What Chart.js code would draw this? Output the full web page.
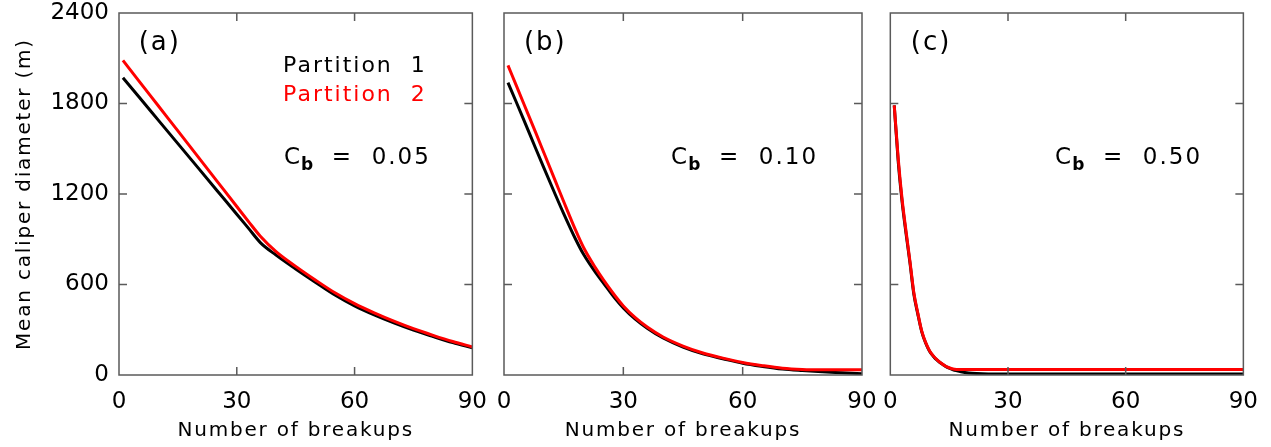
<!DOCTYPE html>
<html>
<head>
<meta charset="utf-8">
<script src="https://cdn.jsdelivr.net/npm/chart.js@4.4.1/dist/chart.umd.min.js"></script>
<style>
  html, body { margin: 0; padding: 0; background: #fff; }
  #wrap { position: relative; width: 1271px; height: 447px; overflow: hidden; }
  #wrap canvas { position: absolute; top: 0; }
</style>
</head>
<body>
<div id="wrap">
  <canvas id="chartA" width="500" height="447" style="left:0px"></canvas>
  <canvas id="chartB" width="410" height="447" style="left:480px"></canvas>
  <canvas id="chartC" width="401" height="447" style="left:870px"></canvas>
</div>
<script>
// axis ticks shared by all three panels
const xTicks = [0, 30, 60, 90];
const yTicks = [0, 600, 1200, 1800, 2400];

// (a) Cb = 0.05
const breakupsA   = [1, 5, 10, 15, 20, 25, 30, 33, 36, 40, 45, 50, 55, 60, 65, 70, 75, 80, 85, 90];
const partition1A = [1971, 1846, 1690, 1534, 1378, 1222, 1066, 972, 878, 795, 703, 615, 530, 458, 398, 345, 297, 255, 215, 180];
const partition2A = [2086, 1952, 1785, 1618, 1451, 1284, 1117, 1017, 920, 818, 720, 630, 545, 473, 412, 357, 307, 263, 222, 186];

// (b) Cb = 0.10
const breakupsB   = [1, 3, 5, 8, 10, 13, 15, 18, 20, 23, 25, 28, 30, 33, 36, 40, 45, 50, 55, 60, 65, 70, 75, 80, 85, 90];
const partition1B = [1938, 1815, 1690, 1500, 1375, 1190, 1070, 900, 800, 680, 610, 505, 445, 370, 310, 245, 185, 140, 108, 78, 57, 40, 30, 22, 15, 8];
const partition2B = [2053, 1925, 1797, 1605, 1475, 1280, 1150, 960, 845, 710, 630, 522, 458, 380, 318, 252, 192, 146, 112, 83, 62, 45, 37, 35, 35, 35];

// (c) Cb = 0.50
const breakupsC   = [1, 2, 3, 4, 5, 6, 7, 8, 9, 10, 11, 12, 13, 14, 15, 16, 17, 18, 20, 22, 25, 30, 40, 50, 60, 70, 80, 90];
const partition1C = [1788, 1420, 1150, 940, 745, 535, 405, 288, 212, 158, 123, 97, 76, 59, 45, 35, 28, 22, 14, 10, 7, 6, 6, 6, 6, 6, 6, 6];
const partition2C = [1788, 1440, 1165, 955, 755, 545, 412, 292, 216, 161, 125, 99, 78, 60, 48, 40, 37, 36, 36, 36, 36, 36, 36, 36, 36, 36, 36, 36];

const axisColor = '#5a5a5a';
const fontFamily = '"DejaVu Sans", sans-serif';

function points(xs, ys) {
  return xs.map((x, i) => ({ x: x, y: ys[i] }));
}

// wide IDL-like lettering for axis titles; tick labels are drawn later without it
const spacingPlugin = {
  id: 'spacing',
  beforeDraw(chart) { chart.ctx.letterSpacing = '1.8px'; },
  beforeDatasetsDraw(chart) { chart.ctx.letterSpacing = '0px'; }
};

// closed box with inward ticks on all four sides
const framePlugin = {
  id: 'frame',
  afterDraw(chart) {
    const { ctx, chartArea: a, scales } = chart;
    const len = 8;
    ctx.save();
    ctx.strokeStyle = axisColor;
    ctx.lineWidth = 1.5;
    ctx.strokeRect(a.left, a.top, a.right - a.left, a.bottom - a.top);
    ctx.beginPath();
    scales.x.ticks.forEach(t => {
      if (t.value <= scales.x.min || t.value >= scales.x.max) return;
      const px = scales.x.getPixelForValue(t.value);
      ctx.moveTo(px, a.bottom); ctx.lineTo(px, a.bottom - len);
      ctx.moveTo(px, a.top); ctx.lineTo(px, a.top + len);
    });
    scales.y.ticks.forEach(t => {
      if (t.value <= scales.y.min || t.value >= scales.y.max) return;
      const py = scales.y.getPixelForValue(t.value);
      ctx.moveTo(a.left, py); ctx.lineTo(a.left + len, py);
      ctx.moveTo(a.right, py); ctx.lineTo(a.right - len, py);
    });
    ctx.stroke();
    ctx.restore();
  }
};

// panel tag, legend and breakup coefficient text
const notesPlugin = {
  id: 'notes',
  afterDraw(chart, args, opts) {
    const { ctx, scales: { x, y } } = chart;
    ctx.save();
    ctx.letterSpacing = '2px';
    ctx.fillStyle = '#000';

    ctx.font = '26px ' + fontFamily;
    ctx.textBaseline = 'middle';
    ctx.textAlign = 'center';
    ctx.fillText(opts.tag, x.getPixelForValue(10.4), y.getPixelForValue(2198));

    ctx.textAlign = 'left';
    ctx.textBaseline = 'alphabetic';
    ctx.font = '22px ' + fontFamily;
    if (opts.legend) {
      const lx = x.getPixelForValue(41.8);
      ctx.fillStyle = '#000';
      ctx.fillText('Partition  1', lx, y.getPixelForValue(2059) + 8);
      ctx.fillStyle = '#ff0000';
      ctx.fillText('Partition  2', lx, y.getPixelForValue(1867) + 8);
    }

    ctx.fillStyle = '#000';
    let cx = x.getPixelForValue(42);
    const cy = y.getPixelForValue(1450) + 8;
    ctx.font = '23px ' + fontFamily;
    ctx.fillText('C', cx, cy);
    cx += ctx.measureText('C').width - 1;
    ctx.font = 'bold 17px ' + fontFamily;
    ctx.letterSpacing = '0px';
    ctx.fillText('b', cx, cy + 6);
    cx += ctx.measureText('b').width;
    ctx.font = '23px ' + fontFamily;
    ctx.letterSpacing = '2px';
    ctx.fillText('  =  ' + opts.cb, cx, cy);
    ctx.restore();
  }
};

function makePanel(id, p1, p2, opts) {
  const ctx = document.getElementById(id).getContext('2d');
  return new Chart(ctx, {
    type: 'line',
    data: {
      datasets: [
        { label: 'Partition 2', data: p2, borderColor: '#ff0000', borderWidth: 3 },
        { label: 'Partition 1', data: p1, borderColor: '#000000', borderWidth: 3 }
      ]
    },
    options: {
      responsive: false,
      animation: false,
      events: [],
      layout: { padding: { top: 13, right: opts.padRight, bottom: 0, left: 0 } },
      elements: {
        point: { radius: 0 },
        line: { cubicInterpolationMode: 'monotone', fill: false }
      },
      plugins: {
        legend: { display: false },
        tooltip: { enabled: false },
        notes: { tag: opts.tag, cb: opts.cb, legend: opts.legend }
      },
      scales: {
        x: {
          type: 'linear',
          min: 0,
          max: 90,
          grid: { display: false, drawTicks: false },
          border: { display: false },
          afterBuildTicks: s => { s.ticks = xTicks.map(v => ({ value: v })); },
          afterFit: s => { s.height = 72; },
          ticks: {
            z: 1, padding: 13, color: '#000', maxRotation: 0,
            font: { family: fontFamily, size: 23 },
            callback: v => String(v)
          },
          title: {
            display: true,
            text: 'Number of breakups',
            color: '#000',
            padding: { top: 0, bottom: 4 },
            font: { family: fontFamily, size: 20 }
          }
        },
        y: {
          min: 0,
          max: 2400,
          grid: { display: false, drawTicks: false },
          border: { display: false },
          afterBuildTicks: s => { s.ticks = yTicks.map(v => ({ value: v })); },
          // keep the plot box at the same height in every panel
          afterFit: s => { s.width = opts.yWidth; s.paddingTop = 0; s.paddingBottom = 0; },
          ticks: {
            z: 1, display: opts.yLabels, padding: 10, color: '#000',
            font: { family: fontFamily, size: 23 },
            callback: v => String(v)
          },
          title: {
            display: opts.yLabels,
            text: 'Mean caliper diameter (m)',
            color: '#000',
            padding: { top: 13, bottom: 0 },
            font: { family: fontFamily, size: 20 }
          }
        }
      }
    },
    plugins: [spacingPlugin, framePlugin, notesPlugin]
  });
}

makePanel('chartA', points(breakupsA, partition1A), points(breakupsA, partition2A),
  { tag: '(a)', cb: '0.05', legend: true, yLabels: true, yWidth: 119, padRight: 24 });
makePanel('chartB', points(breakupsB, partition1B), points(breakupsB, partition2B),
  { tag: '(b)', cb: '0.10', legend: false, yLabels: false, yWidth: 24, padRight: 28 });
makePanel('chartC', points(breakupsC, partition1C), points(breakupsC, partition2C),
  { tag: '(c)', cb: '0.50', legend: false, yLabels: false, yWidth: 19, padRight: 24 });
</script>
</body>
</html>
